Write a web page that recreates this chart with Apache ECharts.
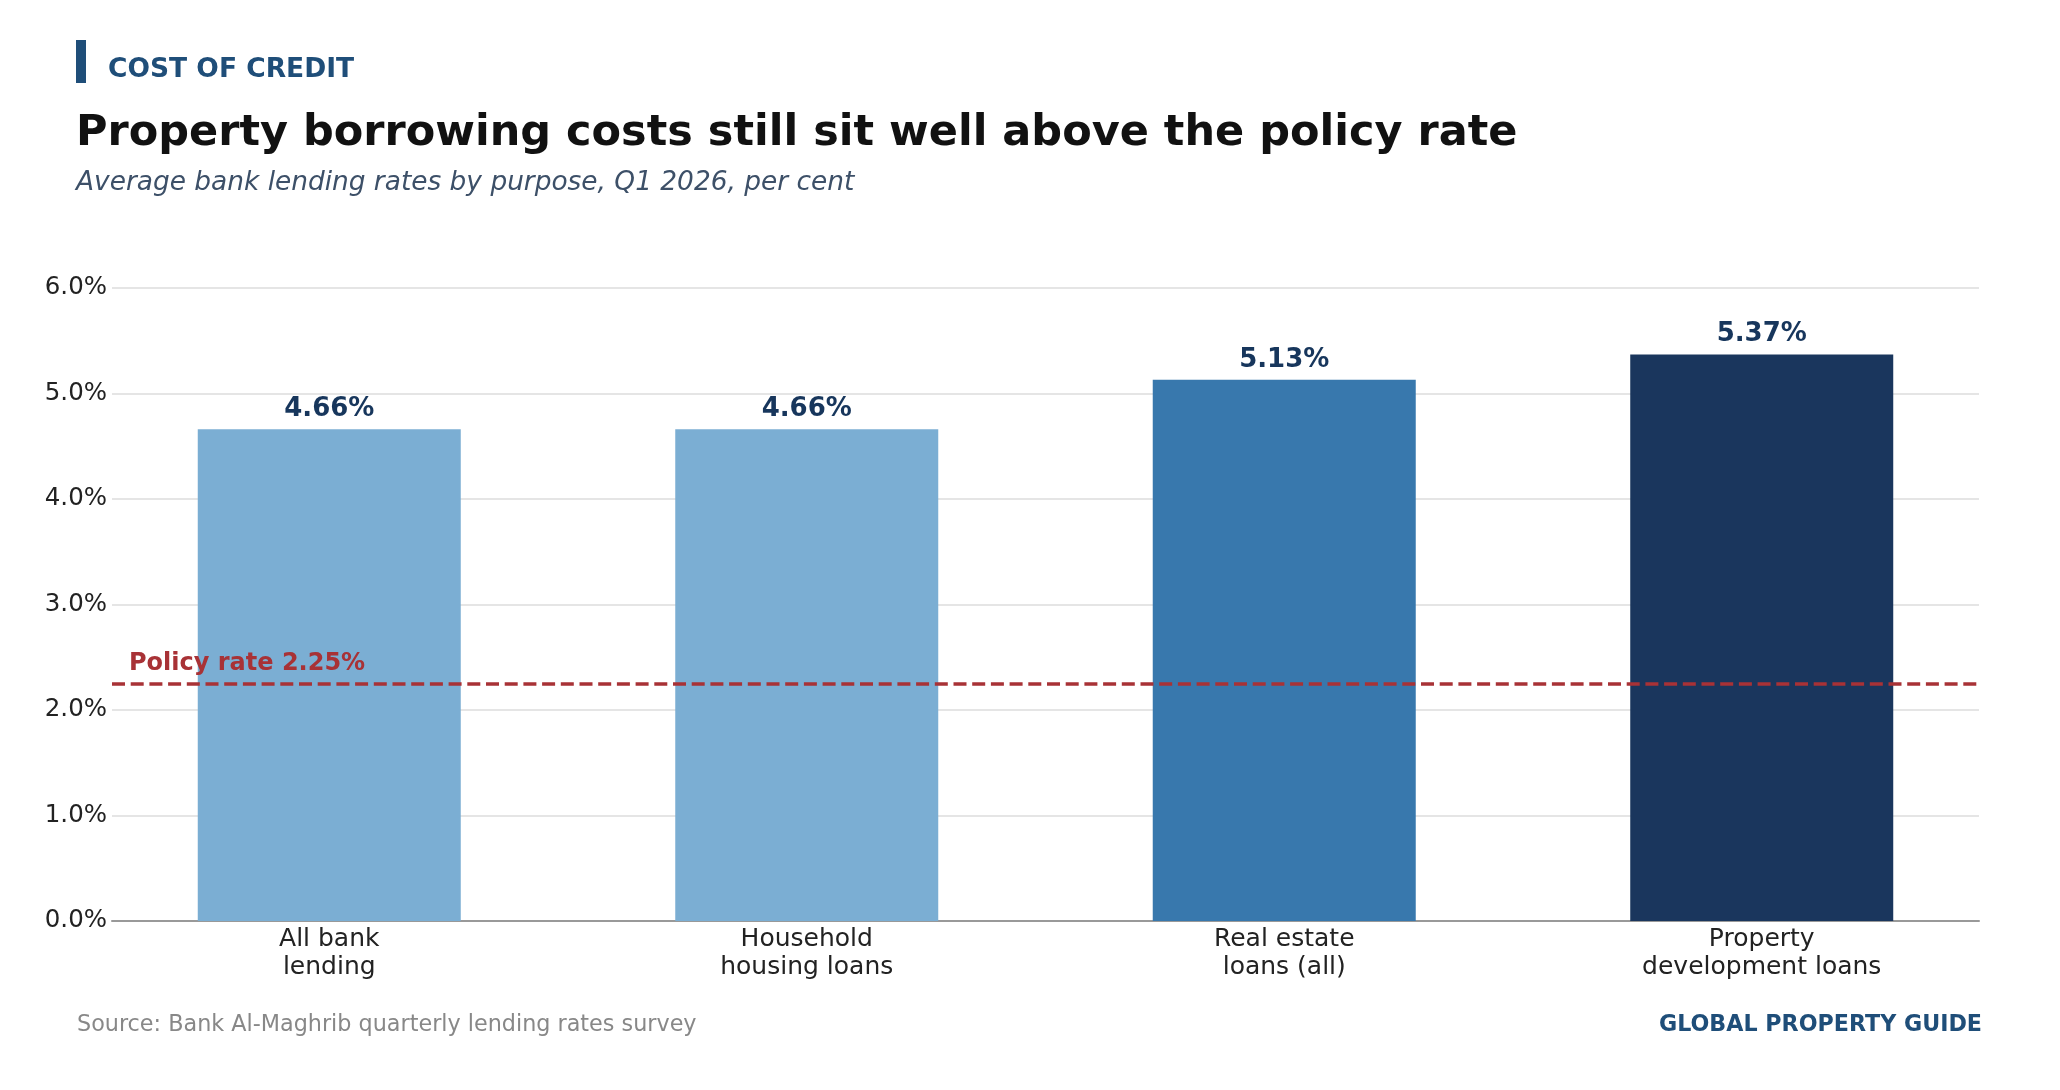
<!DOCTYPE html>
<html>
<head>
<meta charset="utf-8">
<title>Cost of credit</title>
<script src="https://cdn.jsdelivr.net/npm/echarts@6/dist/echarts.min.js"></script>
<style>
  html, body { margin: 0; padding: 0; background: #fff; }
  #chart { width: 2060px; height: 1090px; }
</style>
</head>
<body>
<div id="chart"></div>
<script>
// 数据
const categories = ['All bank\nlending', 'Household\nhousing loans', 'Real estate\nloans (all)', 'Property\ndevelopment loans']
const rates = [4.66, 4.66, 5.13, 5.37]
const policyRate = 2.25
const yTicks = [0, 1, 2, 3, 4, 5, 6]

// 样式
const barColors = ['#7baed3', '#7baed3', '#3878ad', '#1a365d']
const navy = '#1f4e79'
const red = '#a83236'
const font = 'DejaVu Sans'

const chart = echarts.init(document.getElementById('chart'))

const option = {
  animation: false,
  textStyle: { fontFamily: font },
  grid: {
    left: 112,
    right: 81,
    top: 288,
    bottom: 169
  },
  xAxis: {
    type: 'value',
    min: -0.455,
    max: 3.455,
    splitLine: { show: false },
    axisTick: { show: false },
    axisLine: {
      show: true,
      lineStyle: { color: '#999', width: 2 }
    },
    axisLabel: {
      customValues: categories.map((c, i) => i),
      formatter: v => categories[v] || '',
      fontSize: 25,
      lineHeight: 28,
      color: '#222',
      margin: 4
    }
  },
  yAxis: {
    type: 'value',
    min: yTicks[0],
    max: yTicks[yTicks.length - 1],
    interval: 1,
    axisLine: { show: false },
    axisTick: { show: false },
    splitLine: { lineStyle: { color: '#dddddd', width: 1.5 } },
    axisLabel: {
      formatter: v => v.toFixed(1) + '%',
      fontSize: 24.5,
      color: '#222',
      margin: 5,
      padding: [0, 0, 3, 0]
    }
  },
  series: [
    {
      type: 'bar',
      barWidth: 263,
      silent: true,
      data: rates.map((v, i) => ({
        value: [i, v],
        itemStyle: { color: barColors[i] }
      })),
      label: {
        show: true,
        position: 'top',
        distance: 7,
        fontSize: 26,
        fontWeight: 'bold',
        color: '#17365c',
        formatter: p => p.value[1].toFixed(2) + '%'
      },
      markLine: {
        silent: true,
        symbol: 'none',
        data: [{ yAxis: policyRate }],
        lineStyle: { color: red, width: 3.5, type: [13, 5.7] },
        label: {
          position: 'insideStartTop',
          distance: [17, 8],
          formatter: 'Policy rate ' + policyRate.toFixed(2) + '%',
          fontSize: 24,
          fontWeight: 'bold',
          color: red
        }
      }
    }
  ],
  graphic: [
    {
      type: 'rect',
      shape: { x: 76, y: 40, width: 10, height: 43 },
      style: { fill: navy }
    },
    {
      type: 'text',
      style: {
        x: 108, y: 70, text: 'COST OF CREDIT',
        font: 'bold 26.5px "DejaVu Sans"', fill: navy, verticalAlign: 'middle'
      }
    },
    {
      type: 'text',
      style: {
        x: 76, y: 134, text: 'Property borrowing costs still sit well above the policy rate',
        font: 'bold 43px "DejaVu Sans"', fill: '#111', verticalAlign: 'middle'
      }
    },
    {
      type: 'text',
      style: {
        x: 76, y: 183.5, text: 'Average bank lending rates by purpose, Q1 2026, per cent',
        font: 'italic 26.4px "DejaVu Sans"', fill: '#3d5068', verticalAlign: 'middle'
      }
    },
    {
      type: 'text',
      style: {
        x: 77, y: 1025, text: 'Source: Bank Al-Maghrib quarterly lending rates survey',
        font: '22.3px "DejaVu Sans"', fill: '#888', verticalAlign: 'middle'
      }
    },
    {
      type: 'text',
      style: {
        x: 1982, y: 1025, text: 'GLOBAL PROPERTY GUIDE',
        font: 'bold 22.2px "DejaVu Sans"', fill: navy, align: 'right', verticalAlign: 'middle'
      }
    }
  ]
}

chart.setOption(option)
</script>
</body>
</html>
